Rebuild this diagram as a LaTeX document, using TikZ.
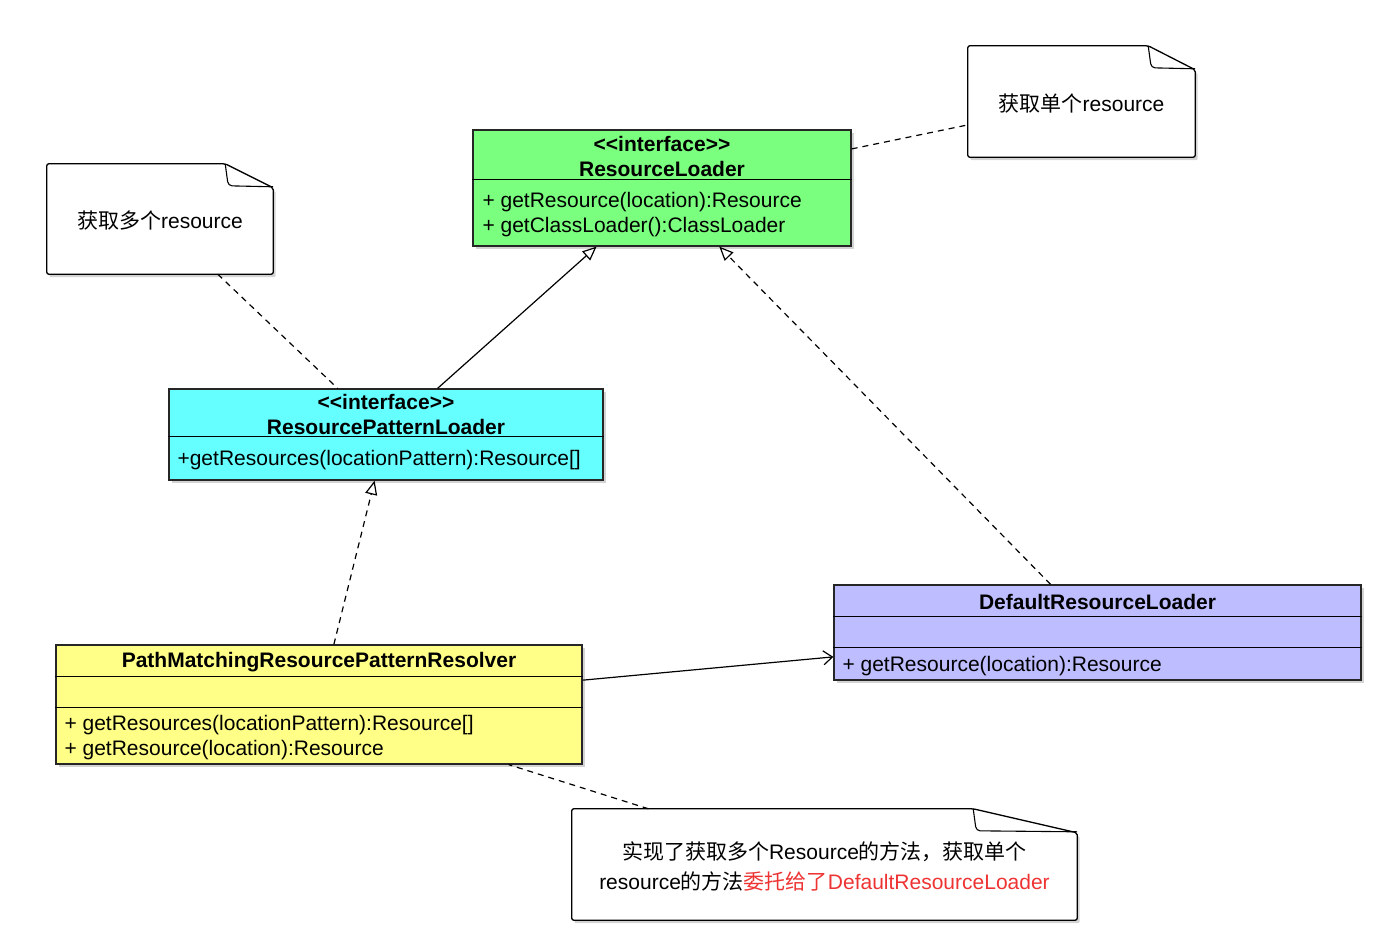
\documentclass[tikz,border=0pt]{standalone}
\usepackage{fontspec}
\setmainfont{Liberation Sans}
\newfontfamily\cjk{Noto Sans CJK SC}
\usetikzlibrary{calc,arrows.meta,shadows}
\definecolor{ifacegreen}{HTML}{7BFF7F}
\definecolor{patterncyan}{HTML}{66FFFF}
\definecolor{resolveryellow}{HTML}{FFFF88}
\definecolor{defaultviolet}{HTML}{BDBDFF}
\definecolor{delegatered}{HTML}{EE3333}
\newcommand{\stereo}[1]{<\kern0pt<#1>\kern0pt>}
\begin{document}
\begin{tikzpicture}[x=1pt,y=-1pt,
  every node/.style={font=\fontsize{21}{25}\selectfont,inner sep=0pt},
  shade/.style={drop shadow={shadow xshift=2.5pt,shadow yshift=-3pt,opacity=0.35}},
  umlbox/.style={draw=black!85,line width=1.3pt,shade},
  umlhead/.style={align=center,font=\fontsize{21}{25}\selectfont\bfseries},
  umlops/.style={anchor=west,align=left},
  notebox/.style={align=center},
  dashline/.style={line width=1.2pt,dash pattern=on 6pt off 5pt},
  realize/.style={-{Triangle[open,length=14pt,width=12pt,line width=1.2pt]}}]
\useasboundingbox (0,0) rectangle (1400,947);
% interface ResourceLoader
\node[umlbox,fill=ifacegreen,minimum width=378pt,minimum height=116pt] (loader) at (662,188) {};
\draw[line width=1.2pt] ($(loader.north west)+(0,50)$) -- ($(loader.north east)+(0,50)$);
\node[umlhead] (loaderHead) at ($(loader.north)+(0,27)$) {\stereo{interface}\\ResourceLoader};
\node[umlops] (loaderOps) at ($(loader.north west)+(10,85.5)$) {+ getResource(location):Resource\\+ getClassLoader():ClassLoader};
% interface ResourcePatternLoader
\node[umlbox,fill=patterncyan,minimum width=434pt,minimum height=91pt] (pattern) at (386,434.5) {};
\draw[line width=1.2pt] ($(pattern.north west)+(0,48)$) -- ($(pattern.north east)+(0,48)$);
\node[umlhead] (patternHead) at ($(pattern.north)+(0,26)$) {\stereo{interface}\\ResourcePatternLoader};
\node[umlops] (patternOps) at ($(pattern.north west)+(9,71.5)$) {+getResources(locationPattern):Resource[]};
% PathMatchingResourcePatternResolver
\node[umlbox,fill=resolveryellow,minimum width=526pt,minimum height=119pt] (resolver) at (319,704.5) {};
\draw[line width=1.2pt] ($(resolver.north west)+(0,32)$) -- ($(resolver.north east)+(0,32)$);
\draw[line width=1.2pt] ($(resolver.north west)+(0,63)$) -- ($(resolver.north east)+(0,63)$);
\node[umlhead] (resolverHead) at ($(resolver.north)+(0,18)$) {PathMatchingResourcePatternResolver};
\node[umlops] (resolverOps) at ($(resolver.north west)+(9,93)$) {+ getResources(locationPattern):Resource[]\\+ getResource(location):Resource};
% DefaultResourceLoader
\node[umlbox,fill=defaultviolet,minimum width=527pt,minimum height=95pt] (default) at (1097.5,632.5) {};
\draw[line width=1.2pt] ($(default.north west)+(0,32)$) -- ($(default.north east)+(0,32)$);
\draw[line width=1.2pt] ($(default.north west)+(0,63)$) -- ($(default.north east)+(0,63)$);
\node[umlhead] (defaultHead) at ($(default.north)+(0,18)$) {DefaultResourceLoader};
\node[umlops] (defaultOps) at ($(default.north west)+(9,81.5)$) {+ getResource(location):Resource};
% notes
\node[minimum width=226pt,minimum height=110pt] (multi) at (160,219) {};
\node[minimum width=227pt,minimum height=111pt] (single) at (1081.5,101.5) {};
\node[minimum width=505pt,minimum height=111pt] (delegate) at (824.5,864.5) {};
\foreach \n/\w in {multi/48,single/47,delegate/104}{
  \draw[line width=1.3pt,fill=white,shade,rounded corners=2pt] (\n.north west) -- ($(\n.north east)+(-\w,0)$)
    -- ($(\n.north east)+(0,24)$) -- (\n.south east) -- (\n.south west) -- cycle;
  \draw[line width=1.1pt,rounded corners=4pt] ($(\n.north east)+(-\w,0)$) -- ($(\n.north east)+(-\w+3,22)$)
    -- ($(\n.north east)+(0,23)$);
}
\node[notebox] (multiText) at ($(multi)+(0,1.5)$) {{\cjk 获取多个}resource};
\node[notebox] (singleText) at ($(single)+(0,2)$) {{\cjk 获取单个}resource};
\node[notebox,font=\fontsize{21}{30}\selectfont] (delegateText) at ($(delegate)+(0,1.5)$)
  {{\cjk 实现了获取多个}Resource{\cjk 的方法，获取单个}\\resource{\cjk 的方法}\textcolor{delegatered}{{\cjk 委托给了}DefaultResourceLoader}};
% relations
\draw[dashline] (loader) -- (single);
\draw[dashline] (multi) -- (pattern);
\draw[line width=1.2pt,realize] (pattern) -- (loader);
\draw[dashline,realize] (default) -- (loader);
\draw[dashline,realize] (resolver) -- (pattern);
\draw[line width=1.2pt,-{Straight Barb[length=9pt,width=14pt,line width=1.2pt]}] (resolver) -- (default);
\draw[dashline] (delegate) -- (resolver);
\end{tikzpicture}
\end{document}
